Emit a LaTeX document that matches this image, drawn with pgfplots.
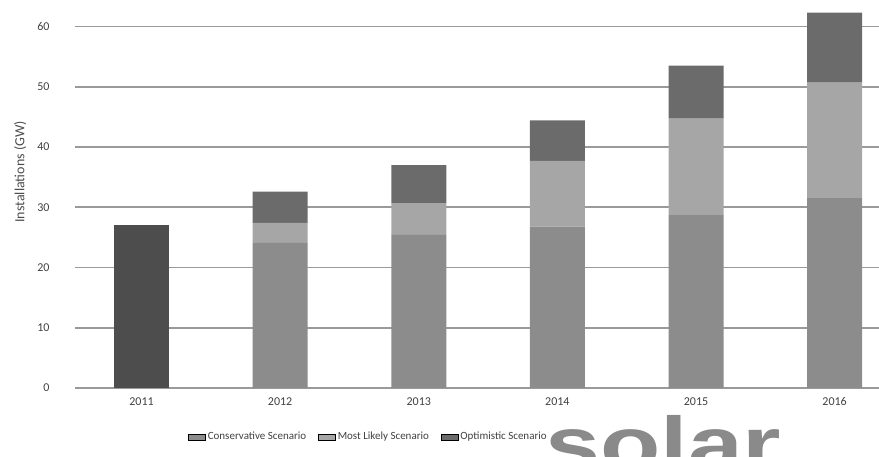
\documentclass[border=0pt]{standalone}
\usepackage{fontspec}
\setmainfont{Carlito}
\newfontfamily\logofont{Liberation Sans}
\usepackage{pgfplots}
\pgfplotsset{compat=1.18}
\definecolor{actual}{HTML}{4D4D4D}
\definecolor{cons}{HTML}{8C8C8C}
\definecolor{mlik}{HTML}{A6A6A6}
\definecolor{opt}{HTML}{6B6B6B}
\definecolor{gridc}{HTML}{9A9A9A}
\definecolor{logoc}{HTML}{8A8A8A}
\begin{document}
\begin{tikzpicture}
\path[use as bounding box] (0,0) rectangle (879pt,457pt);
\node[anchor=base west, inner sep=0pt, text=logoc, xscale=1.3, font=\logofont\bfseries\fontsize{76}{76}\selectfont] at (545pt,-14pt) {solar};
\begin{axis}[
  at={(75pt,69pt)}, anchor=south west,
  scale only axis, width=804pt, height=388pt,
  xmin=-0.48, xmax=5.32, ymin=0, ymax=64.4,
  ybar stacked, bar width=55pt,
  ytick={0,10,...,60},
  ymajorgrids, grid style={gridc, line width=1.6pt},
  xtick={0,...,5}, xticklabels={2011,2012,2013,2014,2015,2016},
  tick style={draw=none},
  /pgf/number format/assume math mode=true,
  ticklabel style={font=\fontsize{12}{14}\selectfont, text=black!75},
  yticklabel style={xshift=-22pt},
  xticklabel style={yshift=-6pt},
  axis x line*=bottom, axis y line*=left,
  x axis line style={draw=none}, y axis line style={draw=none},
  ylabel={Installations (GW)},
  ylabel style={font=\fontsize{14}{16}\selectfont, text=black!70, at={(axis description cs:-0.068,0.557)}, anchor=center},
  legend columns=3,
  legend style={at={(0.137,-0.126)}, anchor=west, draw=none, fill=none,
    font=\fontsize{11}{13}\selectfont, text=black!75,
    /tikz/every even column/.append style={column sep=10pt}},
  legend image code/.code={\fill[#1] (0pt,-3.5pt) rectangle (7pt,3.5pt);},
  area legend,
]
\addplot[fill=cons, draw=none] coordinates {(0,0) (1,24.1) (2,25.4) (3,26.8) (4,28.7) (5,31.5)};
\addlegendentry{Conservative Scenario}
\addplot[fill=mlik, draw=none] coordinates {(0,0) (1,3.3) (2,5.3) (3,10.9) (4,16.0) (5,19.2)};
\addlegendentry{Most Likely Scenario}
\addplot[fill=opt, draw=none] coordinates {(0,0) (1,5.2) (2,6.3) (3,6.7) (4,8.8) (5,11.6)};
\addlegendentry{Optimistic Scenario}
\addplot[fill=actual, draw=none] coordinates {(0,27.0) (1,0) (2,0) (3,0) (4,0) (5,0)};
\end{axis}
\end{tikzpicture}
\end{document}
